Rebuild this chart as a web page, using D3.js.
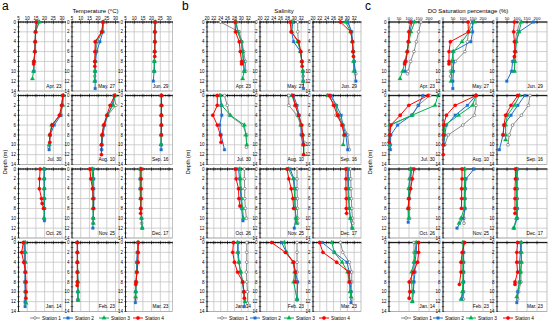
<!DOCTYPE html>
<html>
<head>
<meta charset="utf-8">
<script src="https://cdn.jsdelivr.net/npm/d3@7"></script>
<style>
  body { margin: 0; background: #fff; }
  svg { display: block; font-family: "Liberation Sans", Arial, sans-serif; }
</style>
</head>
<body>
<div id="container"></div>
<script>
const width = 550, height = 324;

const dates = ["Apr. 23", "May. 27", "Jun. 29", "Jul. 30", "Aug. 10", "Sep. 16",
               "Oct. 26", "Nov. 25", "Dec. 17", "Jan. 14", "Feb. 23", "Mar. 23"];
const stations = ["Station 1", "Station 2", "Station 3", "Station 4"];
const depthTicks = [0, 2, 4, 6, 8, 10, 12, 14];
const tempTicks = [5, 10, 15, 20, 25, 30];
const salTicks = [20, 22, 24, 26, 28, 30, 32];
const doTicks = [0, 50, 100, 150, 200];

// [depth, value] pairs, per date, per station (1..4)
const temperature = [
  [[[0,16.5],[2,14.8],[4,14.6],[6,14.4],[8,14.0],[10,13.8]],
   [[0,15.5],[2,14.7],[4,14.6],[6,14.4],[8,13.9],[10,13.8]],
   [[0,17.0],[2,14.8],[4,14.6],[6,14.4],[8,13.9],[10,13.6],[11.5,13.0]],
   [[0,15.2],[2,14.8],[4,14.6],[6,14.4],[8,13.8],[8.5,13.7]]],
  [[[0,22.8],[2,22.5],[4,19.5],[6,18.6],[8,18.3],[10,18.2],[11,18.0]],
   [[0,23.0],[2,22.8],[4,21.0],[6,19.2],[8,18.5],[10,18.3],[12,18.3],[13.5,18.3]],
   [[0,23.0],[2,22.3],[4,18.8],[6,18.5],[8,18.3],[10,18.2],[12,18.0]],
   [[0,22.8],[2,22.0],[4,18.3],[6,18.2],[8,18.1],[9,18.1]]],
  [[[0,22.0],[2,21.9],[4,21.9],[6,21.8],[8,21.7],[10,21.6]],
   [[0,22.0],[2,21.8],[4,21.8],[6,21.7],[8,21.5],[10,21.4],[12,21.0]],
   [[0,22.1],[2,21.9],[4,21.9],[6,21.8],[8,21.6],[10,21.5]],
   [[0,22.0],[2,21.9],[4,21.9],[6,21.8],[7,21.8]]],
  [[[0,30.5],[2,30.0],[4,29.0],[6,24.5],[8,23.0],[10.5,22.5]],
   [[0,30.5],[2,29.8],[4,29.4],[6,25.5],[8,23.2],[10,22.8],[11,22.6]],
   [[0,30.8],[2,30.5],[4,28.8],[6,24.0],[8,23.0],[10,22.6]],
   [[0,30.5],[2,29.8],[4,28.5],[6,24.3],[8,23.0],[9.5,23.0]]],
  [[[0,29.0],[2,30.2],[4,25.5],[6,23.5],[8,22.5],[10,22.0],[11,22.0]],
   [[0,29.3],[2,28.0],[4,25.5],[6,23.8],[8,22.8],[10,22.2],[11,22.0]],
   [[0,29.8],[2,28.5],[4,25.3],[6,23.2],[8,22.3],[10,22.0]],
   [[0,29.5],[2,26.9],[4,25.0],[6,23.2],[8,22.2],[10,21.9],[12,21.9]]],
  [[[0,25.6],[2,25.6],[4,25.6],[6,25.6],[8,25.5],[10,25.5]],
   [[0,25.6],[2,25.6],[4,25.6],[6,25.6],[8,25.5],[10,25.5],[11,25.5]],
   [[0,25.6],[2,25.6],[4,25.6],[6,25.6],[8,25.5],[10,25.4]],
   [[0,25.7],[2,25.7],[4,25.6],[6,25.6],[8,25.6]]],
  [[[0,19.8],[2,19.8],[4,19.8],[6,19.8],[8,19.8],[10,19.7]],
   [[0,19.9],[2,19.9],[4,19.9],[6,19.9],[8,19.9],[10.5,19.9]],
   [[0,19.6],[2,19.6],[4,19.7],[6,19.7],[8,19.7],[10,19.7]],
   [[0,17.4],[2,17.1],[4,17.0],[6,18.2],[7,18.6],[8,19.4]]],
  [[[0,16.5],[2,16.8],[4,17.0],[6,17.2],[8,17.2],[10,17.2],[11,17.0]],
   [[0,17.2],[2,17.5],[4,17.5],[6,17.6],[8,17.5],[10,17.2],[12,17.0]],
   [[0,16.6],[2,16.9],[4,17.0],[6,17.0],[8,17.0],[10,17.2],[11,17.3]],
   [[0,15.3],[2,15.8],[4,16.8],[6,17.2],[8,17.3]]],
  [[[0,13.8],[2,13.8],[4,13.8],[6,13.8],[8,13.9],[10,14.1],[11,14.2]],
   [[0,13.4],[2,13.4],[4,13.4],[6,13.5],[8,13.7],[10,14.2],[12,14.6]],
   [[0,13.6],[2,13.6],[4,13.6],[6,13.7],[8,13.8],[10,14.2],[12,14.6]],
   [[0,14.0],[2,14.0],[4,14.0],[6,14.0],[8,13.8],[9,13.7]]],
  [[[0,8.0],[2,8.3],[4,8.5],[6,8.8],[8,9.0],[10,9.0],[12.3,9.0]],
   [[0,8.5],[2,8.6],[4,8.7],[6,8.8],[8,8.6],[10,8.8],[12,8.8],[13,8.8]],
   [[0,8.8],[2,9.0],[4,9.0],[6,9.0],[8,9.0],[10,9.2],[12.3,9.3]],
   [[0,7.8],[2,6.8],[4,8.0],[6,9.0],[8,9.3],[10,9.3],[11.3,9.2]]],
  [[[0,8.2],[2,8.2],[4,8.2],[6,8.2],[8,8.3],[10,8.3],[11.5,8.4]],
   [[0,8.1],[2,8.1],[4,8.1],[6,8.2],[8,8.3],[10,8.4],[11.7,8.4]],
   [[0,8.2],[2,8.2],[4,8.2],[6,8.3],[8,8.5],[10,8.5],[11.7,8.5]],
   [[0,8.0],[2,8.0],[4,8.0],[6,8.0],[8,8.0],[8.7,8.0]]],
  [[[0,12.0],[2,11.8],[4,11.6],[6,11.4],[8,11.3],[10,11.0],[11.5,10.9]],
   [[0,12.1],[2,11.8],[4,11.4],[6,11.3],[8,11.0],[10,10.8],[12.2,10.7]],
   [[0,12.2],[2,12.0],[4,11.8],[6,11.5],[8,11.2],[10,10.9],[11,10.8]],
   [[0,12.4],[2,12.3],[4,12.2],[6,11.6],[8,11.0],[8.5,10.9]]]
];

const salinity = [
  [[[0,23.9],[2,29.4],[4,30.2],[6,30.7],[8,31.2],[10,31.3]],
   [[0,28.4],[2,29.0],[4,30.0],[6,30.4],[8,30.7],[10,30.9]],
   [[0,28.5],[2,29.0],[4,30.0],[6,30.3],[8,30.6],[10,30.8],[11.5,30.4]],
   [[0,28.2],[2,28.3],[4,29.4],[6,29.7],[8,30.1],[8.5,30.1]]],
  [[[0,31.0],[2,31.0],[4,31.2],[6,31.8],[8,32.2],[10,32.5],[11,32.6]],
   [[0,29.6],[2,29.2],[4,29.8],[6,31.8],[8,32.2],[10,32.5],[12,32.6],[13.5,32.7]],
   [[0,29.3],[2,29.3],[4,31.0],[6,31.8],[8,32.2],[10,32.5],[12,32.6]],
   [[0,28.8],[2,29.1],[4,31.3],[6,31.9],[8,32.2],[9,32.3]]],
  [[[0,30.3],[2,31.2],[4,31.5],[6,31.8],[8,32.0],[10.5,32.5]],
   [[0,30.1],[2,31.3],[4,31.5],[6,31.7],[8,32.0],[10,32.2],[12,32.5]],
   [[0,29.5],[2,31.0],[4,31.5],[6,31.7],[8,31.8],[10,31.9]],
   [[0,28.0],[2,31.0],[4,31.5],[6,31.7],[7,31.8]]],
  [[[0,25.1],[2,25.9],[4,26.5],[6,30.4],[8,31.6],[10.5,31.5]],
   [[0,23.9],[2,24.1],[4,24.3],[6,23.7],[8,24.1],[11,25.1]],
   [[0,23.8],[2,24.3],[4,26.8],[6,30.9],[8,31.3],[10,31.6]],
   [[0,23.0],[2,23.0],[4,21.7],[6,23.0],[8,23.9],[9.5,24.1]]],
  [[[0,28.4],[2,28.4],[4,30.8],[6,31.9],[8,32.5],[9.5,32.8]],
   [[0,29.8],[2,30.8],[4,31.4],[6,31.9],[8,32.0],[10,32.5]],
   [[0,29.3],[2,30.3],[4,31.2],[6,31.9],[8,32.5],[10,32.8],[12,32.8]],
   [[0,29.6],[2,30.3],[4,31.3],[6,32.2],[8,32.4],[10,32.7],[12,32.7]]],
  [[[0,25.0],[2,26.8],[4,26.7],[6,28.8],[8,30.1],[11,30.6]],
   [[0,25.3],[2,26.8],[4,28.2],[6,28.7],[8,29.6],[11,30.1]],
   [[0,24.3],[2,26.5],[4,27.5],[6,28.7],[8,29.1],[10,28.8]],
   [[0,24.8],[2,26.0],[4,27.2],[6,28.4],[8,29.1]]],
  [[[0,30.9],[2,30.9],[4,31.0],[6,31.0],[8,31.2],[10,31.5]],
   [[0,29.2],[2,29.5],[4,29.7],[6,29.9],[8,30.1],[10.5,30.5]],
   [[0,29.6],[2,29.8],[4,29.9],[6,30.1],[8,30.4],[10,30.6]],
   [[0,28.4],[2,28.5],[4,29.2],[6,29.3],[7.5,29.6]]],
  [[[0,30.8],[2,30.8],[4,30.8],[6,30.9],[8,30.9],[10,31.0],[11,31.0]],
   [[0,28.8],[2,29.9],[4,30.2],[6,30.2],[8,30.2],[10,30.5],[12,30.0]],
   [[0,28.3],[2,29.7],[4,30.0],[6,30.1],[8,30.3],[10,30.5],[11,30.7]],
   [[0,27.9],[2,28.4],[4,29.1],[6,29.6],[8,29.8]]],
  [[[0,30.9],[2,31.0],[4,31.1],[6,31.2],[8,31.3],[10,31.5],[11,31.6]],
   [[0,30.3],[2,30.3],[4,30.4],[6,30.5],[8,30.6],[10,30.9],[12,31.4]],
   [[0,30.0],[2,30.1],[4,30.2],[6,30.3],[8,30.6],[10,30.9],[12,31.5]],
   [[0,29.6],[2,29.6],[4,29.6],[6,29.7],[8,29.7],[9,29.8]]],
  [[[0,31.6],[2,31.6],[4,31.6],[6,31.5],[8,31.6],[10,31.8],[12.3,31.8]],
   [[0,29.1],[2,29.1],[4,29.4],[6,29.7],[8,30.4],[10,30.7],[13,30.9]],
   [[0,28.9],[2,28.9],[4,29.2],[6,29.9],[8,30.4],[10,30.7],[12,31.1]],
   [[0,27.7],[2,27.5],[4,28.0],[6,28.9],[8,30.4],[10,30.8],[11.3,30.9]]],
  [[[0,30.8],[2,30.8],[4,30.8],[6,30.8],[8,30.8],[11.7,30.8]],
   [[0,26.3],[2,27.7],[4,29.8],[6,30.3],[8,31.0],[11.5,30.8]],
   [[0,27.1],[2,27.7],[4,29.6],[6,30.1],[8,29.8],[11.5,30.8]],
   [[0,23.4],[2,27.4],[4,29.8],[6,30.3],[8,30.3]]],
  [[[0,28.0],[2,28.7],[4,30.6],[6,31.3],[8,31.3],[10,31.1],[11.5,31.3]],
   [[0,22.7],[2,26.2],[4,29.9],[6,30.6],[8,30.8],[10,31.1],[12.2,31.1]],
   [[0,25.5],[2,26.2],[4,28.5],[6,30.1],[8,30.6],[10,30.8],[11,31.1]],
   [[0,21.9],[2,22.9],[4,26.9],[6,30.4],[8,30.6]]]
];

const doSat = [
  [[[0,160],[2,148],[4,137],[6,125],[8,108],[10,96],[10.5,92]],
   [[0,115],[2,105],[4,98],[6,92],[8,85],[10,80]],
   [[0,128],[2,110],[4,100],[6,90],[8,80],[10,68],[11.5,55]],
   [[0,108],[2,99],[4,96],[6,92],[8,82],[8.5,78]]],
  [[[0,139],[2,127],[4,122],[6,110],[8,61],[10,38],[11,38]],
   [[0,148],[2,148],[4,139],[6,49],[8,52],[10,52],[12,49],[13.5,49]],
   [[0,157],[2,130],[4,95],[6,52],[8,44],[10,44],[12,40]],
   [[0,125],[2,127],[4,37],[6,30],[8,30],[8.5,30]]],
  [[[0,115],[2,100],[4,90],[6,88],[8,87],[10,87]],
   [[0,183],[2,110],[4,96],[6,92],[8,78],[10,73],[12,49]],
   [[0,122],[2,110],[4,96],[6,92],[8,90],[10,87]],
   [[0,87],[2,83],[4,87],[6,90],[7,87]]],
  [[[0,205],[2,145],[4,117],[6,9],[8,7],[10,3]],
   [[0,169],[2,148],[4,113],[6,43],[8,9],[10,7],[11,7]],
   [[0,245],[2,230],[4,116],[6,3],[8,2],[10,2]],
   [[0,195],[2,99],[4,56],[6,9],[8,3],[9.5,1]]],
  [[[0,165],[2,165],[4,157],[6,99],[8,26],[10,9]],
   [[0,165],[2,122],[4,61],[6,17],[8,9],[10,4]],
   [[0,165],[2,148],[4,78],[6,9],[8,5],[10,3]],
   [[0,165],[2,61],[4,17],[6,3],[8,1],[10,1],[12,1]]],
  [[[0,165],[2,157],[4,122],[6,78],[8,61],[10,55]],
   [[0,139],[2,104],[4,70],[6,35],[8,30],[11,12]],
   [[0,113],[2,87],[4,52],[6,43],[8,43],[9,43]],
   [[0,104],[2,70],[4,43],[6,35],[8,30]]],
  [[[0,113],[2,111],[4,108],[6,103],[8,103],[10,103]],
   [[0,113],[2,104],[4,99],[6,99],[8,96],[10.8,96]],
   [[0,108],[2,103],[4,99],[6,99],[8,96],[10,99]],
   [[0,125],[2,117],[4,108],[6,99],[8,96]]],
  [[[0,110],[2,110],[4,110],[6,108],[8,110],[10,105],[11,105]],
   [[0,155],[2,115],[4,112],[6,110],[8,110],[10,100],[12,70]],
   [[0,108],[2,108],[4,107],[6,107],[8,106],[10,90],[11,80]],
   [[0,95],[2,95],[4,93],[6,93],[8,92]]],
  [[[0,100],[2,100],[4,100],[6,100],[8,100],[10,102]],
   [[0,102],[2,100],[4,100],[6,100],[8,102],[10,100],[12,85]],
   [[0,98],[2,98],[4,98],[6,98],[8,98],[10,97],[12,83]],
   [[0,92],[2,92],[4,90],[6,90],[8,90],[9,90]]],
  [[[0,125],[2,125],[4,125],[6,122],[8,122],[10,122]],
   [[0,139],[2,136],[4,130],[6,130],[8,125],[10,122],[12,118]],
   [[0,136],[2,130],[4,125],[6,113],[8,113],[10,116],[12,116]],
   [[0,148],[2,148],[4,143],[6,122],[8,101],[10,104],[11.3,101]]],
  [[[0,103],[2,103],[4,103],[6,103],[8,103],[10,103],[11.5,102]],
   [[0,103],[2,103],[4,103],[6,103],[8,103],[10,100],[11.5,94]],
   [[0,99],[2,99],[4,99],[6,99],[8,99],[10,97],[11.5,90]],
   [[0,108],[2,96],[4,90],[6,90],[8.5,82]]],
  [[[0,120],[2,120],[4,123],[6,120],[8,120],[10,108],[11.5,103]],
   [[0,117],[2,117],[4,113],[6,113],[8,113],[10,103],[12.2,99]],
   [[0,122],[2,122],[4,122],[6,117],[8,113],[11,99]],
   [[0,103],[2,99],[4,99],[6,103],[8,90],[8.5,90]]]
];

const colors = ["#5a5a5a", "#1f6fd0", "#00b050", "#ff0000"];
const rowTops = [22, 95.5, 169, 242.5], rowH = 69;

const panels = [
  { letter: "a", letterX: 2, title: "Temperature (\u00B0C)", data: temperature, domain: [5, 32],
    ticks: tempTicks, minor: 1, x0: 18.5, w: 47, step: 53.5, depthX: 7, legendX: [30, 63, 99, 133], tickFont: 4.5 },
  { letter: "b", letterX: 182, title: "Salinity", data: salinity, domain: [20, 34],
    ticks: salTicks, minor: 0.5, x0: 207, w: 48, step: 53, depthX: 190, legendX: [217, 250, 284, 319], tickFont: 4.5 },
  { letter: "c", letterX: 365, title: "DO Saturation percentage (%)", data: doSat, domain: [0, 250],
    ticks: doTicks, minor: 10, x0: 389, w: 50, step: 54, depthX: 372, legendX: [401, 433, 466, 503], tickFont: 4.1 }
];

const svg = d3.select("#container")
  .append("svg")
  .attr("width", width)
  .attr("height", height)
  .style("background", "#fff");

const symbols = [d3.symbolCircle, d3.symbolSquare, d3.symbolTriangle, d3.symbolCircle];
const symSize = [6, 7, 8, 9];

function marker(sel, s) {
  sel.attr("d", d3.symbol().type(symbols[s]).size(symSize[s]))
    .attr("fill", s === 0 ? "#fff" : colors[s])
    .attr("stroke", colors[s])
    .attr("stroke-width", s === 0 ? 0.6 : 0.3);
}

panels.forEach(p => {
  const g = svg.append("g");

  g.append("text")
    .attr("x", p.letterX).attr("y", 10)
    .style("font-size", "12px")
    .text(p.letter);

  g.append("text")
    .attr("x", p.x0 + p.step + p.w / 2).attr("y", 13)
    .attr("text-anchor", "middle")
    .style("font-size", "6px")
    .text(p.title);

  g.append("text")
    .attr("transform", `translate(${p.depthX},${162}) rotate(-90)`)
    .attr("text-anchor", "middle")
    .style("font-size", "5.5px")
    .text("Depth (m)");

  p.data.forEach((profiles, i) => {
    const col = i % 3, row = Math.floor(i / 3);
    const left = p.x0 + col * p.step, top = rowTops[row];
    const x = d3.scaleLinear().domain(p.domain).range([left, left + p.w]);
    const y = d3.scaleLinear().domain([0, 14]).range([top, top + rowH]);
    const sub = g.append("g");

    // grid
    sub.selectAll("line.vg")
      .data(p.ticks.filter(t => t > p.domain[0]))
      .join("line")
      .attr("x1", d => x(d)).attr("x2", d => x(d))
      .attr("y1", top).attr("y2", top + rowH)
      .attr("stroke", "#c4c4c4").attr("stroke-width", 0.8);
    sub.selectAll("line.hg")
      .data(depthTicks.filter(t => t > 0))
      .join("line")
      .attr("x1", left).attr("x2", left + p.w)
      .attr("y1", d => y(d)).attr("y2", d => y(d))
      .attr("stroke", "#c4c4c4").attr("stroke-width", 0.8);
    sub.append("rect")
      .attr("x", left).attr("y", top)
      .attr("width", p.w).attr("height", rowH)
      .attr("fill", "none").attr("stroke", "#9a9a9a").attr("stroke-width", 0.6);

    // minor ticks on top axis
    const minorVals = d3.range(p.domain[0], p.domain[1] + 1e-9, p.minor);
    sub.selectAll("line.mt")
      .data(minorVals)
      .join("line")
      .attr("x1", d => x(d)).attr("x2", d => x(d))
      .attr("y1", top - 1).attr("y2", top + 1.2)
      .attr("stroke", "#000").attr("stroke-width", 0.5);
    sub.selectAll("line.mj")
      .data(p.ticks)
      .join("line")
      .attr("x1", d => x(d)).attr("x2", d => x(d))
      .attr("y1", top - 1.8).attr("y2", top + 1.8)
      .attr("stroke", "#000").attr("stroke-width", 0.6);
    // minor ticks on depth axis
    sub.selectAll("line.dt")
      .data(d3.range(0, 15, 1))
      .join("line")
      .attr("x1", left - 1.3).attr("x2", left + 1.3)
      .attr("y1", d => y(d)).attr("y2", d => y(d))
      .attr("stroke", "#000").attr("stroke-width", 0.5);

    sub.append("line")
      .attr("x1", left).attr("x2", left + p.w).attr("y1", top).attr("y2", top)
      .attr("stroke", "#000").attr("stroke-width", 0.8);
    sub.append("line")
      .attr("x1", left).attr("x2", left).attr("y1", top).attr("y2", top + rowH)
      .attr("stroke", "#000").attr("stroke-width", 0.8);

    if (row === 0) {
      sub.selectAll("text.xt")
        .data(p.ticks)
        .join("text")
        .attr("x", d => x(d)).attr("y", top - 2.5)
        .attr("text-anchor", "middle")
        .style("font-size", p.tickFont + "px")
        .text(d => d);
    }
    sub.selectAll("text.yt")
      .data(depthTicks)
      .join("text")
      .attr("x", left - 2.5).attr("y", d => y(d) + 1.6)
      .attr("text-anchor", "end")
      .style("font-size", "4.5px")
      .text(d => d);

    const line = d3.line().x(d => x(d[1])).y(d => y(d[0]));
    profiles.forEach((prof, s) => {
      sub.append("path")
        .datum(prof)
        .attr("d", line)
        .attr("fill", "none")
        .attr("stroke", colors[s])
        .attr("stroke-width", s === 0 ? 0.7 : 1);
      sub.selectAll(`path.m${s}`)
        .data(prof)
        .join("path")
        .attr("class", `m${s}`)
        .attr("transform", d => `translate(${x(d[1])},${y(d[0])})`)
        .call(marker, s);
    });

    sub.append("text")
      .attr("x", left + p.w - 4).attr("y", top + rowH - 3.5)
      .attr("text-anchor", "end")
      .style("font-size", "4.8px")
      .text(dates[i]);
  });

  // legend
  stations.forEach((name, s) => {
    const lx = p.legendX[s], ly = 318;
    g.append("line")
      .attr("x1", lx).attr("x2", lx + 10).attr("y1", ly).attr("y2", ly)
      .attr("stroke", colors[s]).attr("stroke-width", s === 0 ? 0.7 : 1);
    g.append("path")
      .attr("transform", `translate(${lx + 5},${ly})`)
      .call(marker, s);
    g.append("text")
      .attr("x", lx + 12).attr("y", ly + 1.7)
      .style("font-size", "4.8px")
      .text(name);
  });
});
</script>
</body>
</html>
